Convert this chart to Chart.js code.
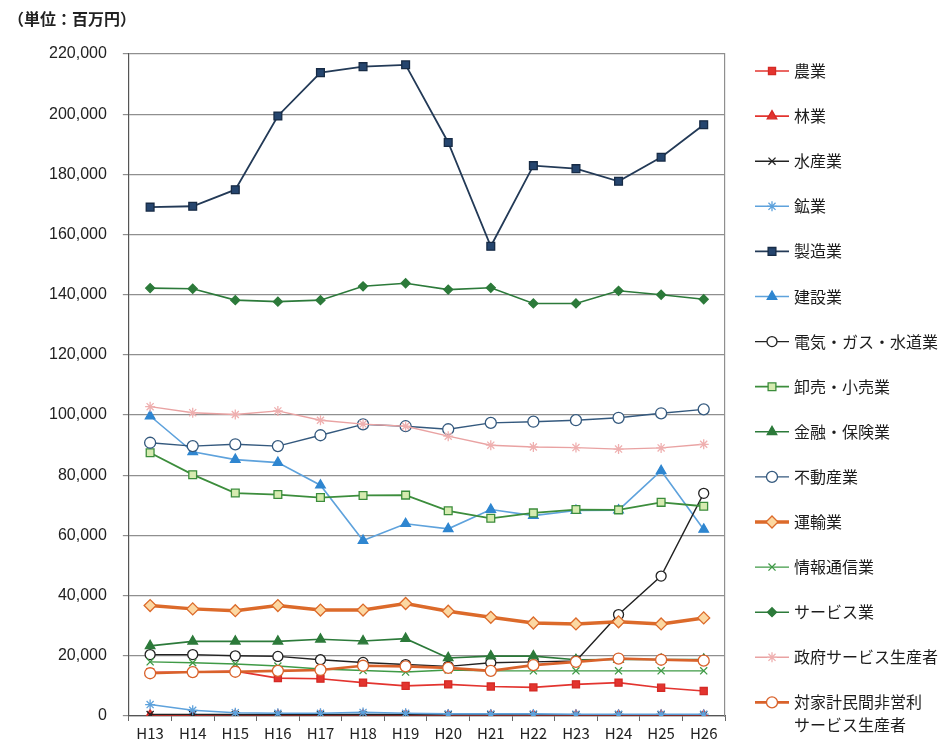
<!DOCTYPE html>
<html lang="ja">
<head>
<meta charset="utf-8">
<title>産業別 推移</title>
<script src="https://cdn.jsdelivr.net/npm/chart.js@4.4.1/dist/chart.umd.min.js"></script>
<style>
  html, body { margin: 0; padding: 0; background: #fff; }
  #wrap { width: 950px; height: 746px; position: relative; }
</style>
</head>
<body>
<div id="wrap"><canvas id="industry-chart"></canvas></div>
<script>
const years = ["H13", "H14", "H15", "H16", "H17", "H18", "H19", "H20", "H21", "H22", "H23", "H24", "H25", "H26"];
const yTicks = [0, 20000, 40000, 60000, 80000, 100000, 120000, 140000, 160000, 180000, 200000, 220000];
const unitLabel = "（単位：百万円）";

// 単位：百万円
const agriculture = [14500, 14600, 14900, 12600, 12400, 11100, 10000, 10500, 9800, 9500, 10500, 11100, 9400, 8300];
const forestry = [300, 250, 200, 200, 200, 200, 200, 150, 150, 150, 150, 150, 150, 150];
const fishery = [500, 500, 450, 450, 450, 450, 450, 400, 400, 400, 400, 400, 400, 400];
const mining = [3800, 1900, 1100, 900, 900, 1200, 900, 700, 700, 700, 600, 600, 600, 600];
const manufacturing = [169100, 169400, 174900, 199400, 213800, 215800, 216400, 190600, 156100, 182900, 181900, 177700, 185700, 196500];
const construction = [99700, 87800, 85200, 84200, 76700, 58300, 63900, 62200, 68600, 66600, 68300, 68400, 81500, 62000];
const utilities = [20400, 20400, 20000, 19800, 18700, 17800, 17100, 16500, 17700, 18000, 18300, 33700, 46500, 74000];
const trade = [87500, 80200, 74100, 73600, 72600, 73300, 73400, 68200, 65700, 67500, 68600, 68500, 71000, 69700];
const finance = [23300, 24800, 24800, 24800, 25500, 24900, 25700, 19300, 19900, 19900, 18700, 18800, 18800, 18800];
const realEstate = [90800, 89700, 90300, 89700, 93300, 96900, 96300, 95300, 97400, 97800, 98300, 99100, 100600, 101900];
const transport = [36700, 35600, 35000, 36700, 35200, 35200, 37400, 34800, 32800, 30900, 30600, 31300, 30600, 32600];
const infoComm = [18000, 17700, 17300, 16600, 15600, 15100, 14600, 15300, 15000, 15000, 15000, 15000, 15000, 15000];
const services = [142200, 142000, 138200, 137700, 138200, 142800, 143800, 141700, 142300, 137100, 137100, 141300, 140000, 138500];
const government = [102800, 100800, 100200, 101400, 98300, 97000, 96300, 93000, 90000, 89400, 89200, 88700, 89100, 90300];
const nonProfit = [14200, 14600, 14700, 15000, 15300, 16700, 16500, 16000, 15000, 16900, 18000, 19100, 18700, 18400];

const seriesNames = [
  "農業", "林業", "水産業", "鉱業", "製造業", "建設業", "電気・ガス・水道業", "卸売・小売業",
  "金融・保険業", "不動産業", "運輸業", "情報通信業", "サービス業", "政府サービス生産者",
  "対家計民間非営利\nサービス生産者"
];
const seriesValues = [
  agriculture, forestry, fishery, mining, manufacturing, construction, utilities, trade,
  finance, realEstate, transport, infoComm, services, government, nonProfit
];

// line colour, marker style, marker fill, marker border, line width, marker radius
const styles = [
  { line: "#e3342f", pt: "rect", fill: "#e3342f", edge: "#d42a25", w: 1.6, r: 5 },
  { line: "#e3342f", pt: "triangle", fill: "#e3342f", edge: "#d42a25", w: 1.6, r: 5.5 },
  { line: "#222222", pt: "crossRot", fill: "#222222", edge: "#222222", w: 1.6, r: 5 },
  { line: "#5ea2dc", pt: "star", fill: "#5ea2dc", edge: "#5ea2dc", w: 1.6, r: 5 },
  { line: "#233a57", pt: "rect", fill: "#25456e", edge: "#172b45", w: 1.8, r: 5.5 },
  { line: "#5ea2dc", pt: "triangle", fill: "#2f86d0", edge: "#2f86d0", w: 1.6, r: 5.5 },
  { line: "#222222", pt: "circle", fill: "#ffffff", edge: "#222222", w: 1.4, r: 5 },
  { line: "#3c8d3c", pt: "rect", fill: "#d6ebb0", edge: "#3c8d3c", w: 1.8, r: 5.5 },
  { line: "#2c7a3a", pt: "triangle", fill: "#2c7a3a", edge: "#2c7a3a", w: 1.6, r: 5.5 },
  { line: "#34597e", pt: "circle", fill: "#ffffff", edge: "#34597e", w: 1.4, r: 5.5 },
  { line: "#dc6a2a", pt: "rectRot", fill: "#fcd8a2", edge: "#dc6a2a", w: 3.5, r: 6 },
  { line: "#3f9a46", pt: "crossRot", fill: "#3f9a46", edge: "#3f9a46", w: 1.4, r: 5 },
  { line: "#2c7a3a", pt: "rectRot", fill: "#2c7a3a", edge: "#2c7a3a", w: 1.6, r: 4.5 },
  { line: "#e9a2a2", pt: "star", fill: "#efb0b0", edge: "#efb0b0", w: 1.4, r: 5 },
  { line: "#d9622b", pt: "circle", fill: "#ffffff", edge: "#d9622b", w: 2.6, r: 5.5 }
];

const datasets = seriesValues.map((values, i) => ({
  label: seriesNames[i],
  data: values,
  borderColor: styles[i].line,
  borderWidth: styles[i].w,
  pointStyle: styles[i].pt,
  pointRadius: styles[i].r,
  pointHoverRadius: styles[i].r,
  pointBackgroundColor: styles[i].fill,
  pointBorderColor: styles[i].edge,
  pointBorderWidth: 1.3,
  tension: 0,
  fill: false,
  // later series sit on top, as in the original workbook chart
  order: seriesValues.length - i
}));

// unit caption in the top-left corner
const unitCaption = {
  id: "unitCaption",
  afterDraw(chart) {
    const { ctx } = chart;
    ctx.save();
    ctx.fillStyle = "#222";
    ctx.font = "bold 16px 'Noto Sans CJK JP', sans-serif";
    ctx.textBaseline = "middle";
    ctx.textAlign = "left";
    ctx.fillText(unitLabel, 8, 19);
    ctx.restore();
  }
};

// legend on the right: short line + marker + name, one row per series
const sideLegend = {
  id: "sideLegend",
  afterDraw(chart) {
    const { ctx, chartArea } = chart;
    const x0 = chartArea.right + 30;
    const step = 45.1;
    ctx.save();
    chart.data.datasets.forEach((ds, i) => {
      const y = chartArea.top + 17 + i * step;
      ctx.strokeStyle = ds.borderColor;
      ctx.lineWidth = ds.borderWidth;
      ctx.beginPath();
      ctx.moveTo(x0, y);
      ctx.lineTo(x0 + 34, y);
      ctx.stroke();
      ctx.fillStyle = ds.pointBackgroundColor;
      ctx.strokeStyle = ds.pointBorderColor;
      ctx.lineWidth = ds.pointBorderWidth;
      Chart.helpers.drawPoint(ctx, {
        pointStyle: ds.pointStyle,
        radius: ds.pointRadius,
        rotation: 0,
        borderWidth: ds.pointBorderWidth
      }, x0 + 17, y);
      ctx.fillStyle = "#1c1c1c";
      ctx.font = "16px 'Noto Sans CJK JP', sans-serif";
      ctx.textBaseline = "middle";
      ctx.textAlign = "left";
      ds.label.split("\n").forEach((line, k) => {
        ctx.fillText(line, x0 + 39, y + k * 23);
      });
    });
    ctx.restore();
  }
};

const chart = new Chart(document.getElementById("industry-chart"), {
  type: "line",
  data: { labels: years, datasets: datasets },
  options: {
    responsive: true,
    maintainAspectRatio: false,
    animation: false,
    layout: { padding: { left: 33, right: 217, top: 54, bottom: 1 } },
    plugins: {
      legend: { display: false },
      tooltip: { enabled: false },
      title: { display: false }
    },
    scales: {
      x: {
        offset: true,
        grid: {
          offset: true,
          drawOnChartArea: false,
          drawTicks: true,
          tickLength: 5,
          color: "#666"
        },
        border: { color: "#555", width: 1.2 },
        ticks: {
          color: "#222",
          padding: 3,
          font: { family: "'Noto Sans CJK JP', sans-serif", size: 15 }
        }
      },
      y: {
        min: 0,
        max: 220000,
        afterBuildTicks(axis) {
          axis.ticks = yTicks.map(v => ({ value: v }));
        },
        grid: { color: "#8f8f8f", lineWidth: 1.2, tickLength: 6, tickColor: "#8f8f8f" },
        border: { color: "#555", width: 1.2 },
        ticks: {
          color: "#222",
          padding: 16,
          font: { family: "'Liberation Sans', Arial, sans-serif", size: 16 },
          callback: v => v.toLocaleString("en-US")
        }
      },
      y2: {
        position: "right",
        min: 0,
        max: 220000,
        grid: { display: false },
        border: { color: "#8f8f8f", width: 1.2 },
        ticks: { display: false }
      }
    }
  },
  plugins: [unitCaption, sideLegend]
});
</script>
</body>
</html>
